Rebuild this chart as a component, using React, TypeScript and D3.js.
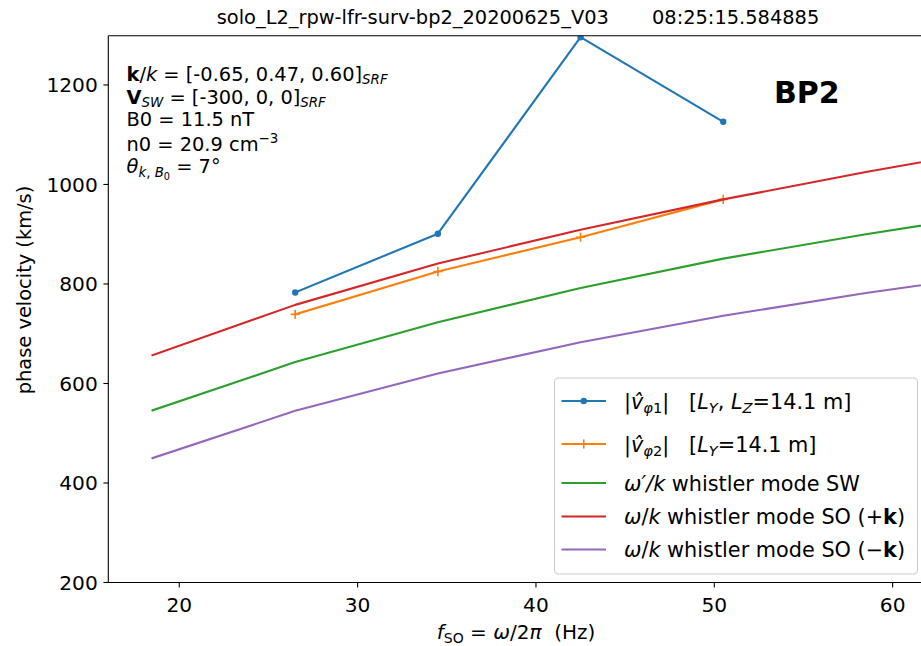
import React from 'react';
import * as d3 from 'd3';

// ---- data ----
const modelFreqs = [18.5, 26.5, 34.5, 42.5, 50.5, 58.5, 66.5];
const measFreqs = [26.5, 34.5, 42.5, 50.5];
const vPhi1 = [783, 901, 1296, 1126];
const vPhi2 = [739, 825, 894, 970];
const whistlerSW = [546, 643, 723, 792, 851, 900, 945];
const whistlerSOPlus = [657, 758, 841, 909, 970, 1025, 1076];
const whistlerSOMinus = [450, 545, 620, 683, 736, 782, 822];
const xTicks = [20, 30, 40, 50, 60];
const yTicks = [200, 400, 600, 800, 1000, 1200];
const titleText = 'solo_L2_rpw-lfr-surv-bp2_20200625_V03\u00a0\u00a0\u00a0\u00a0\u00a0\u00a0\u00a008:25:15.584885';

const C_BLUE = '#1f77b4';
const C_ORANGE = '#ff7f0e';
const C_GREEN = '#2ca02c';
const C_RED = '#d62728';
const C_PURPLE = '#9467bd';

const W = 921;
const H = 646;
const left = 108.3;
const right = 926;
const top = 35.7;
const bottom = 582.5;
const FS = 19.4;
const TFS = 20.2;
const SUB = 13.4;
const LFS = 20.8;
const LSUB = 14.6;
const FONT = '"DejaVu Sans", sans-serif';

export default function App() {
  const x = d3.scaleLinear().domain([16.02, 61.87]).range([left, right]);
  const y = d3.scaleLinear().domain([200, 1299]).range([bottom, top]);

  const line = d3
    .line<[number, number]>()
    .x((d) => x(d[0]))
    .y((d) => y(d[1]));

  const zip = (xs: number[], ys: number[]) => xs.map((v, i) => [v, ys[i]] as [number, number]);

  const series = [
    { data: zip(measFreqs, vPhi1), color: C_BLUE, marker: 'dot' },
    { data: zip(measFreqs, vPhi2), color: C_ORANGE, marker: 'plus' },
    { data: zip(modelFreqs, whistlerSW), color: C_GREEN, marker: 'none' },
    { data: zip(modelFreqs, whistlerSOPlus), color: C_RED, marker: 'none' },
    { data: zip(modelFreqs, whistlerSOMinus), color: C_PURPLE, marker: 'none' },
  ];

  const drawMarker = (m: string, cx: number, cy: number, color: string, key: any) => {
    if (m === 'dot') return <circle key={key} cx={cx} cy={cy} r={3.2} fill={color} />;
    if (m === 'plus')
      return (
        <g key={key} stroke={color} strokeWidth={1.6}>
          <line x1={cx - 4.6} x2={cx + 4.6} y1={cy} y2={cy} />
          <line x1={cx} x2={cx} y1={cy - 4.6} y2={cy + 4.6} />
        </g>
      );
    return null;
  };

  const legendRows = [
    { color: C_BLUE, marker: 'dot', cy: 401 },
    { color: C_ORANGE, marker: 'plus', cy: 444 },
    { color: C_GREEN, marker: 'none', cy: 483 },
    { color: C_RED, marker: 'none', cy: 516.5 },
    { color: C_PURPLE, marker: 'none', cy: 549.5 },
  ];
  const lx0 = 561.5;
  const lx1 = 606;
  const tx = 624;

  return (
    <svg width={W} height={H} style={{ display: 'block', position: 'absolute', left: 0, top: 0 }} fontFamily={FONT}>
      <rect x={0} y={0} width={W} height={H} fill="#ffffff" />
      <defs>
        <clipPath id="plotclip">
          <rect x={left} y={top} width={right - left} height={bottom - top} />
        </clipPath>
      </defs>

      {/* data */}
      <g clipPath="url(#plotclip)">
        {series.map((s, i) => (
          <g key={i}>
            <path d={line(s.data) || ''} fill="none" stroke={s.color} strokeWidth={2.1} strokeLinejoin="round" strokeLinecap="square" />
            {s.data.map((d, j) => drawMarker(s.marker, x(d[0]), y(d[1]), s.color, j))}
          </g>
        ))}
      </g>

      {/* spines */}
      <g stroke="#000" strokeWidth={1.1} fill="none">
        <line x1={left} x2={left} y1={top} y2={bottom} />
        <line x1={left} x2={right} y1={bottom} y2={bottom} />
        <line x1={left} x2={right} y1={top} y2={top} />
        <line x1={right} x2={right} y1={top} y2={bottom} />
      </g>

      {/* y ticks */}
      {yTicks.map((t) => (
        <g key={'y' + t}>
          <line x1={left - 4.9} x2={left} y1={y(t)} y2={y(t)} stroke="#000" strokeWidth={1.1} />
          <text x={left - 10.5} y={y(t) + 7.3} textAnchor="end" fontSize={TFS} fill="#000">
            {t}
          </text>
        </g>
      ))}

      {/* x ticks */}
      {xTicks.map((t) => (
        <g key={'x' + t}>
          <line x1={x(t)} x2={x(t)} y1={bottom} y2={bottom + 4.9} stroke="#000" strokeWidth={1.1} />
          <text x={x(t)} y={bottom + 29.5} textAnchor="middle" fontSize={TFS} fill="#000">
            {t}
          </text>
        </g>
      ))}

      {/* axis labels */}
      <text x={516} y={639} textAnchor="middle" fontSize={20} fill="#000">
        <tspan fontStyle="italic">f</tspan>
        <tspan fontSize={14} dy={4}>SO</tspan>
        <tspan dy={-4}>{'\u00a0=\u00a0'}</tspan>
        <tspan fontStyle="italic">ω</tspan>
        <tspan>/2</tspan>
        <tspan fontStyle="italic">π</tspan>
        <tspan>{'\u00a0\u00a0(Hz)'}</tspan>
      </text>
      <text transform="translate(31,290) rotate(-90)" textAnchor="middle" fontSize={FS} fill="#000">
        phase velocity (km/s)
      </text>

      {/* title */}
      <text x={518} y={23.5} textAnchor="middle" fontSize={FS} fill="#000">
        {titleText}
      </text>

      {/* BP2 label */}
      <text x={774} y={102.7} fontSize={30} fontWeight="bold" fill="#000">
        BP2
      </text>

      {/* parameter annotations */}
      <g fontSize={FS} fill="#000">
        <text x={126.5} y={80.5}>
          <tspan fontWeight="bold">k</tspan>
          <tspan>/</tspan>
          <tspan fontStyle="italic">k</tspan>
          <tspan>{'\u00a0=\u00a0[-0.65, 0.47, 0.60]'}</tspan>
          <tspan fontStyle="italic" fontSize={SUB} dy={3.2}>SRF</tspan>
        </text>
        <text x={126.5} y={103.5}>
          <tspan fontWeight="bold">V</tspan>
          <tspan fontStyle="italic" fontSize={SUB} dy={3.2}>SW</tspan>
          <tspan dy={-3.2}>{'\u00a0=\u00a0[-300, 0, 0]'}</tspan>
          <tspan fontStyle="italic" fontSize={SUB} dy={3.2}>SRF</tspan>
        </text>
        <text x={126.5} y={125.5}>
          B0 = 11.5 nT
        </text>
        <text x={126.5} y={150.5}>
          <tspan>{'n0 = 20.9 cm'}</tspan>
          <tspan fontSize={SUB} dy={-8}>−3</tspan>
        </text>
        <text x={126.5} y={173.3}>
          <tspan fontStyle="italic">θ</tspan>
          <tspan fontStyle="italic" fontSize={SUB} dy={4}>k</tspan>
          <tspan fontSize={SUB}>, </tspan>
          <tspan fontStyle="italic" fontSize={SUB}>B</tspan>
          <tspan fontSize={9.7} dy={2.5}>0</tspan>
          <tspan dy={-6.5}>{'\u00a0=\u00a07°'}</tspan>
        </text>
      </g>

      {/* legend */}
      <rect x={554.5} y={378} width={363} height={196} rx={4} ry={4} fill="#ffffff" fillOpacity={0.8} stroke="#cccccc" strokeWidth={1.1} />
      {legendRows.map((r, i) => (
        <g key={'lg' + i}>
          <line x1={lx0} x2={lx1} y1={r.cy} y2={r.cy} stroke={r.color} strokeWidth={2.1} />
          {drawMarker(r.marker, (lx0 + lx1) / 2, r.cy, r.color, 'm')}
        </g>
      ))}
      <g fontSize={LFS} fill="#000">
        <text x={tx} y={408.5}>
          <tspan>|</tspan>
          <tspan fontStyle="italic">{'v\u0302'}</tspan>
          <tspan fontStyle="italic" fontSize={LSUB} dy={4.5}>φ</tspan>
          <tspan fontSize={LSUB}>1</tspan>
          <tspan dy={-4.5}>|</tspan>
          <tspan>{'\u00a0\u00a0\u00a0['}</tspan>
          <tspan fontStyle="italic">L</tspan>
          <tspan fontStyle="italic" fontSize={LSUB} dy={4.5}>Y</tspan>
          <tspan dy={-4.5}>, </tspan>
          <tspan fontStyle="italic">L</tspan>
          <tspan fontStyle="italic" fontSize={LSUB} dy={4.5}>Z</tspan>
          <tspan dy={-4.5}>=14.1 m]</tspan>
        </text>
        <text x={tx} y={451.5}>
          <tspan>|</tspan>
          <tspan fontStyle="italic">{'v\u0302'}</tspan>
          <tspan fontStyle="italic" fontSize={LSUB} dy={4.5}>φ</tspan>
          <tspan fontSize={LSUB}>2</tspan>
          <tspan dy={-4.5}>|</tspan>
          <tspan>{'\u00a0\u00a0\u00a0['}</tspan>
          <tspan fontStyle="italic">L</tspan>
          <tspan fontStyle="italic" fontSize={LSUB} dy={4.5}>Y</tspan>
          <tspan dy={-4.5}>=14.1 m]</tspan>
        </text>
        <text x={tx} y={490.5}>
          <tspan fontStyle="italic">ω′/k</tspan>
          <tspan> whistler mode SW</tspan>
        </text>
        <text x={tx} y={524}>
          <tspan fontStyle="italic">ω</tspan>
          <tspan>/</tspan>
          <tspan fontStyle="italic">k</tspan>
          <tspan> whistler mode SO (+</tspan>
          <tspan fontWeight="bold">k</tspan>
          <tspan>)</tspan>
        </text>
        <text x={tx} y={557}>
          <tspan fontStyle="italic">ω</tspan>
          <tspan>/</tspan>
          <tspan fontStyle="italic">k</tspan>
          <tspan> whistler mode SO (−</tspan>
          <tspan fontWeight="bold">k</tspan>
          <tspan>)</tspan>
        </text>
      </g>
    </svg>
  );
}
